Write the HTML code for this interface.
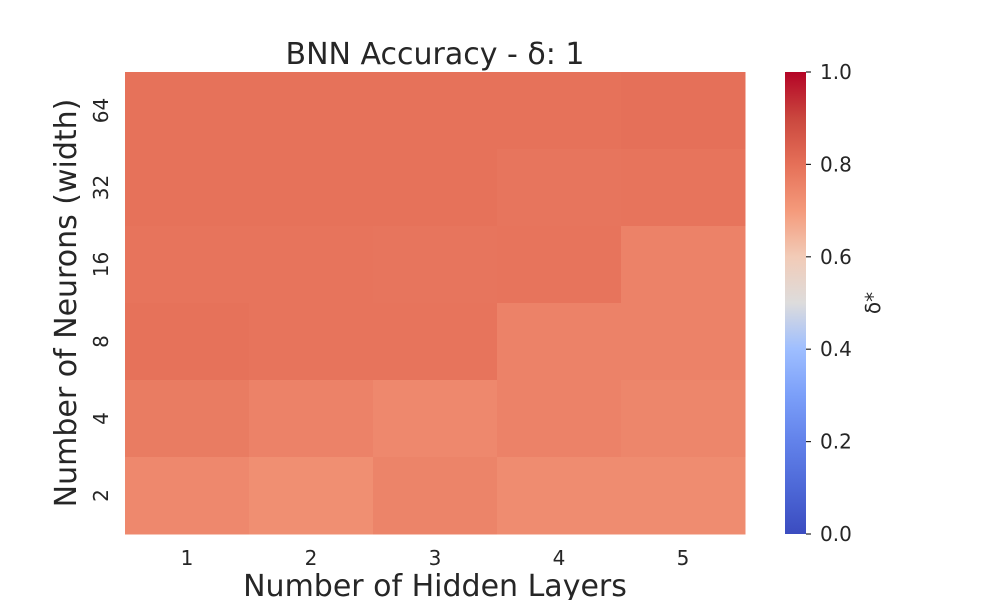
<!DOCTYPE html>
<html><head><meta charset="utf-8"><style>
body{margin:0;background:#fff}
svg text{font-family:"DejaVu Sans","Liberation Sans",sans-serif;fill:#262626}
</style></head><body>
<svg id="chart" width="1000" height="600" xmlns="http://www.w3.org/2000/svg">
<defs>
<linearGradient id="cw" x1="0" y1="1" x2="0" y2="0">
<stop offset="0" stop-color="#3b4cc0"/><stop offset="0.1" stop-color="#4d68d7"/><stop offset="0.2" stop-color="#6282ea"/>
<stop offset="0.3" stop-color="#7b9ff9"/><stop offset="0.4" stop-color="#9ebeff"/><stop offset="0.5" stop-color="#dddcdc"/>
<stop offset="0.6" stop-color="#f2cbb7"/><stop offset="0.7" stop-color="#f49a7b"/><stop offset="0.8" stop-color="#e57058"/>
<stop offset="0.9" stop-color="#ca473e"/><stop offset="1" stop-color="#b40426"/>
</linearGradient>
</defs>
<text x="435" y="64" font-size="30" text-anchor="middle">BNN Accuracy - δ: 1</text>
<g id="cells"></g>
<g id="xticks"></g>
<g id="yticks"></g>
<text x="435" y="596" font-size="30" text-anchor="middle">Number of Hidden Layers</text>
<text transform="translate(76,303) rotate(-90)" font-size="30" text-anchor="middle">Number of Neurons (width)</text>
<rect x="785" y="72" width="21" height="462" fill="url(#cw)"/>
<g id="cbticks"></g>
<text transform="translate(880,303) rotate(-90)" font-size="20" text-anchor="middle">δ*</text>
</svg>
<script>
const xCats=["1","2","3","4","5"];
const yCats=["64","32","16","8","4","2"];
const values=[
[0.80,0.80,0.80,0.80,0.805],
[0.80,0.80,0.80,0.795,0.797],
[0.797,0.797,0.795,0.797,0.775],
[0.80,0.797,0.797,0.775,0.775],
[0.785,0.775,0.765,0.775,0.768],
[0.765,0.755,0.772,0.76,0.76]];
const cbTicks=["0.0","0.2","0.4","0.6","0.8","1.0"];
const NS="http://www.w3.org/2000/svg";
const X0=125,X1=745,Y0=72,Y1=534;
const cw=(X1-X0)/xCats.length, ch=(Y1-Y0)/yCats.length;
const stops=[[0,[59,76,192]],[0.1,[77,104,215]],[0.2,[98,130,234]],[0.3,[123,159,249]],[0.4,[158,190,255]],[0.5,[221,220,220]],[0.6,[242,203,183]],[0.7,[244,154,123]],[0.75,[241,146,117]],[0.8,[230,114,90]],[0.9,[202,71,62]],[1,[180,4,38]]];
function cmap(v){for(let i=1;i<stops.length;i++){if(v<=stops[i][0]){const a=stops[i-1],b=stops[i],t=(v-a[0])/(b[0]-a[0]);return "rgb("+a[1].map((c,k)=>Math.round(c+(b[1][k]-c)*t)).join(",")+")";}}return "rgb(180,4,38)";}
function mk(tag,attrs,parent){const e=document.createElementNS(NS,tag);for(const k in attrs)e.setAttribute(k,attrs[k]);parent.appendChild(e);return e;}
const cells=document.getElementById('cells');
values.forEach((row,r)=>row.forEach((v,c)=>{
const e=mk('rect',{x:X0+c*cw,y:Y0+r*ch,width:cw+0.5,height:ch+0.5,fill:cmap(v)},cells);


}));
const xt=document.getElementById('xticks');
xCats.forEach((l,i)=>{const t=mk('text',{x:X0+(i+0.5)*cw,y:565,'font-size':20,'text-anchor':'middle'},xt);t.textContent=l;

});
const yt=document.getElementById('yticks');
yCats.forEach((l,i)=>{const y=Y0+(i+0.5)*ch;const t=mk('text',{transform:'translate(108,'+y+') rotate(-90)','font-size':20,'text-anchor':'middle'},yt);t.textContent=l;

});
const cb=document.getElementById('cbticks');
cbTicks.forEach(l=>{const v=parseFloat(l);const y=Y1-(Y1-Y0)*v;
const ln=mk('line',{x1:806,x2:811,y1:y,y2:y,stroke:'#262626','stroke-width':1.2},cb);


const t=mk('text',{x:820,y:y+7,'font-size':20},cb);t.textContent=l;

});
</script>
</body></html>
